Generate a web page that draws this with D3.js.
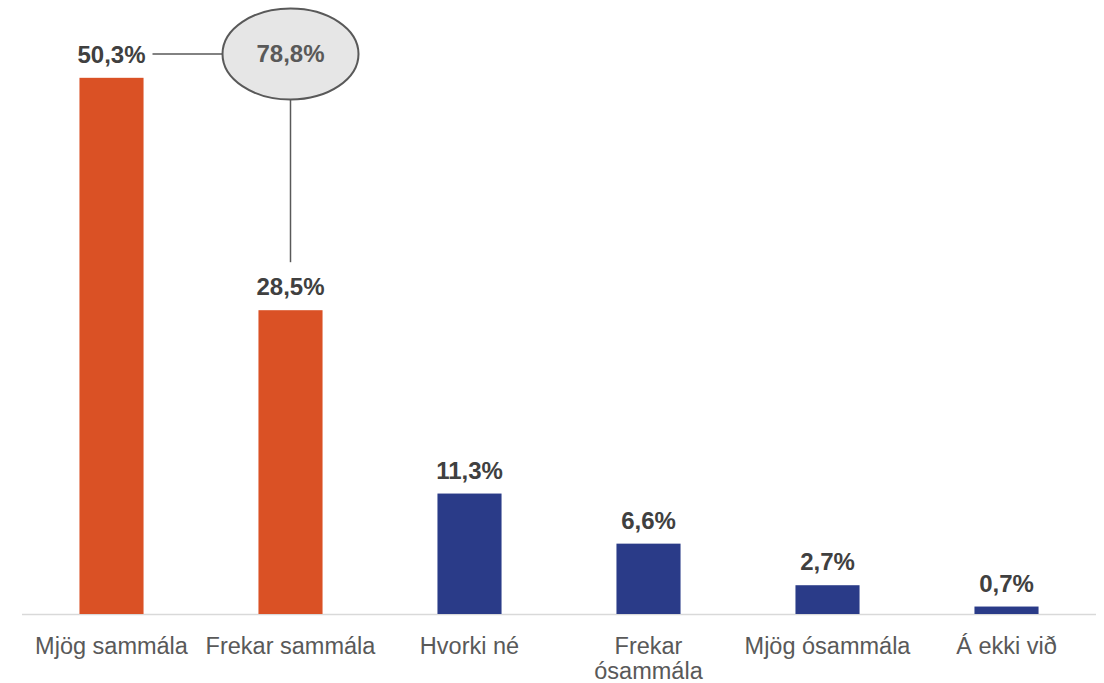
<!DOCTYPE html>
<meta charset="utf-8">
<style>
body { margin: 0; background: #fff; }
text { font-family: "Liberation Sans", Arial, sans-serif; }
</style>
<svg width="1104" height="683"></svg>
<script src="https://d3js.org/d3.v7.min.js"></script>
<script>

var categories = ["Mjög sammála", "Frekar sammála", "Hvorki né", "Frekar|ósammála", "Mjög ósammála", "Á ekki við"];
var values = [50.3, 28.5, 11.3, 6.6, 2.7, 0.7];
var groups = ["agree", "agree", "other", "other", "other", "other"];
var totalAgree = 78.8;

var svg = d3.select("svg"),
    margin = {top: 0, right: 8, bottom: 69, left: 22},
    width = +svg.attr("width") - margin.left - margin.right,
    height = +svg.attr("height") - margin.top - margin.bottom;

var g = svg.append("g")
    .attr("transform", "translate(" + margin.left + "," + margin.top + ")");

var x = d3.scaleBand()
    .domain(categories)
    .range([0, width])
    .paddingInner(0.642)
    .paddingOuter(0.321);

var y = d3.scaleLinear()
    .domain([0, 57.6])
    .range([height, 0]);

var color = d3.scaleOrdinal()
    .domain(["agree", "other"])
    .range(["#DA5125", "#2A3B88"]);

var fmt = function(v) { return d3.format(".1f")(v).replace(".", ",") + "%"; };

// axis line
g.append("line")
    .attr("x1", 0)
    .attr("x2", width)
    .attr("y1", height + 0.5)
    .attr("y2", height + 0.5)
    .attr("stroke", "#d9d9d9")
    .attr("stroke-width", 1.5);

g.selectAll(".bar")
    .data(values)
  .enter().append("rect")
    .attr("class", "bar")
    .attr("x", function(d, i) { return x(categories[i]); })
    .attr("y", function(d) { return y(d); })
    .attr("width", x.bandwidth())
    .attr("height", function(d) { return height - y(d); })
    .attr("fill", function(d, i) { return color(groups[i]); });

g.selectAll(".val")
    .data(values)
  .enter().append("text")
    .attr("class", "val")
    .attr("x", function(d, i) { return x(categories[i]) + x.bandwidth() / 2; })
    .attr("y", function(d) { return y(d) - 15; })
    .attr("text-anchor", "middle")
    .attr("fill", "#404040")
    .style("font-size", "24px")
    .style("font-weight", "bold")
    .text(fmt);

// category labels
var cat = g.selectAll(".cat")
    .data(categories)
  .enter().append("text")
    .attr("class", "cat")
    .attr("x", function(d) { return x(d) + x.bandwidth() / 2; })
    .attr("y", height + 40)
    .attr("text-anchor", "middle")
    .attr("fill", "#595959")
    .style("font-size", "23.5px");

cat.selectAll("tspan")
    .data(function(d) { return d.split("|"); })
  .enter().append("tspan")
    .attr("x", function() { return d3.select(this.parentNode).attr("x"); })
    .attr("dy", function(d, i) { return i ? 25 : 0; })
    .text(function(d) { return d; });

// total agree bubble
var cx = x(categories[1]) + x.bandwidth() / 2,
    cy = 54;

g.append("line")
    .attr("x1", x(categories[0]) + x.bandwidth() / 2 + 41)
    .attr("x2", cx - 68)
    .attr("y1", cy)
    .attr("y2", cy)
    .attr("stroke", "#595959")
    .attr("stroke-width", 1.5);

g.append("line")
    .attr("x1", cx)
    .attr("x2", cx)
    .attr("y1", cy + 46)
    .attr("y2", y(values[1]) - 48)
    .attr("stroke", "#595959")
    .attr("stroke-width", 1.5);

g.append("ellipse")
    .attr("cx", cx)
    .attr("cy", cy)
    .attr("rx", 68)
    .attr("ry", 45.5)
    .attr("fill", "#e6e6e6")
    .attr("stroke", "#595959")
    .attr("stroke-width", 2);

g.append("text")
    .attr("x", cx)
    .attr("y", cy + 8)
    .attr("text-anchor", "middle")
    .attr("fill", "#595959")
    .style("font-size", "24px")
    .style("font-weight", "bold")
    .text(fmt(totalAgree));

</script>
